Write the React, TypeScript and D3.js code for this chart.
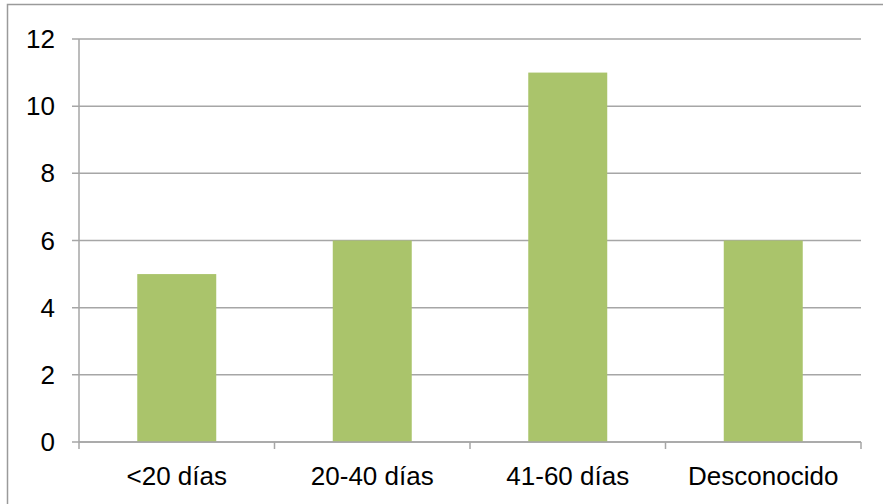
import React from "react";
import * as d3 from "d3";

const categories = ["<20 días", "20-40 días", "41-60 días", "Desconocido"];
const values = [5, 6, 11, 6];
const yTicks = [0, 2, 4, 6, 8, 10, 12];

const W = 883;
const H = 504;
const left = 79;
const right = 861;
const top = 39;
const bottom = 442;
const grid = "#a6a6a6";
const barColor = "#aac46b";
const font = "Liberation Sans, Arial, sans-serif";

export default function App() {
  const x = d3.scaleBand<string>().domain(categories).range([left, right]).padding(0);
  const y = d3.scaleLinear().domain([0, 12]).range([bottom, top]);
  const bw = x.bandwidth() * 0.404;
  const ticksX = [...categories.map((c) => x(c) as number), right];

  return (
    <svg
      width={W}
      height={H}
      style={{ position: "absolute", left: 0, top: 0, background: "#fff" }}
    >
      <rect x={0} y={0} width={W} height={H} fill="#fff" />
      <rect x={7.5} y={4.5} width={W + 20} height={H + 20} fill="none" stroke="#9a9a9a" strokeWidth={1.5} />
      {yTicks.map((t) => (
        <g key={t}>
          <line x1={72} x2={right} y1={y(t)} y2={y(t)} stroke={grid} strokeWidth={1.5} />
          <text
            x={55}
            y={y(t)}
            textAnchor="end"
            dominantBaseline="central"
            fontFamily={font}
            fontSize={26}
            fill="#000"
          >
            {t}
          </text>
        </g>
      ))}
      <line x1={left} x2={left} y1={top} y2={bottom} stroke={grid} strokeWidth={1.5} />
      {ticksX.map((tx, i) => (
        <line key={i} x1={tx} x2={tx} y1={bottom} y2={bottom + 7} stroke={grid} strokeWidth={1.5} />
      ))}
      {categories.map((c, i) => (
        <rect
          key={c}
          x={(x(c) as number) + x.bandwidth() / 2 - bw / 2}
          y={y(values[i])}
          width={bw}
          height={bottom - y(values[i])}
          fill={barColor}
        />
      ))}
      <line x1={left} x2={right} y1={bottom} y2={bottom} stroke={grid} strokeWidth={1.5} />
      {categories.map((c) => (
        <text
          key={c}
          x={(x(c) as number) + x.bandwidth() / 2}
          y={485}
          textAnchor="middle"
          fontFamily={font}
          fontSize={26}
          fill="#000"
        >
          {c}
        </text>
      ))}
    </svg>
  );
}
